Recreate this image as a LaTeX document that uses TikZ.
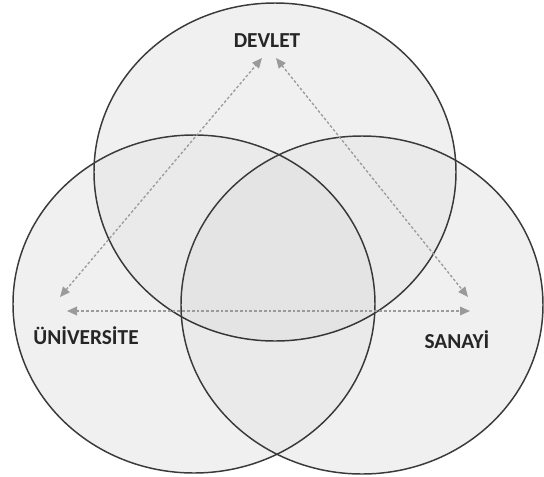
\documentclass[tikz,border=0pt]{standalone}
\usepackage{fontspec}
\setmainfont{Carlito}
\usetikzlibrary{arrows.meta}
\definecolor{ringline}{HTML}{3A3A3A}
\definecolor{ringfill}{HTML}{F6F6F6}
\definecolor{flowgray}{HTML}{9A9A9A}
\tikzset{
  ring/.style={draw=ringline, line width=1.1pt},
  flow/.style={draw=flowgray, line width=1pt, dash pattern=on 2pt off 1.6pt,
    {Triangle[length=7.5pt,width=6.5pt,fill=flowgray]}-{Triangle[length=7.5pt,width=6.5pt,fill=flowgray]}},
  actor/.style={font=\bfseries\fontsize{16}{19}\selectfont, text=black!85, inner sep=0pt}
}
\begin{document}
\begin{tikzpicture}[x=0.75pt, y=-0.75pt]
  \useasboundingbox[fill=white] (0,0) rectangle (544,476);

  % Three overlapping spheres
  \foreach \cx/\cy in {275/172, 194/304, 362/305} {
    \fill[ringfill] (\cx,\cy) ellipse [x radius=181, y radius=169];
  }
  \foreach \cx/\cy in {275/172, 194/304, 362/305} {
    \fill[black, fill opacity=0.025] (\cx,\cy) ellipse [x radius=181, y radius=169];
    \draw[ring] (\cx,\cy) ellipse [x radius=181, y radius=169];
  }

  % Actors
  \node[actor] (devlet) at (267,41) {DEVLET};
  \node[actor] (universite) at (86,336) {ÜNİVERSİTE};
  \node[actor] (sanayi) at (457,340) {SANAYİ};

  % Arrow ends
  \coordinate (dL) at (262,58);
  \coordinate (dR) at (276,58);
  \coordinate (uT) at (60,297);
  \coordinate (uS) at (67,311);
  \coordinate (sT) at (468,297);
  \coordinate (sU) at (470,311);

  % Interaction paths
  \draw[flow] (uT) -- (dL);
  \draw[flow] (dR) -- (sT);
  \draw[flow] (uS) -- (sU);
\end{tikzpicture}
\end{document}
